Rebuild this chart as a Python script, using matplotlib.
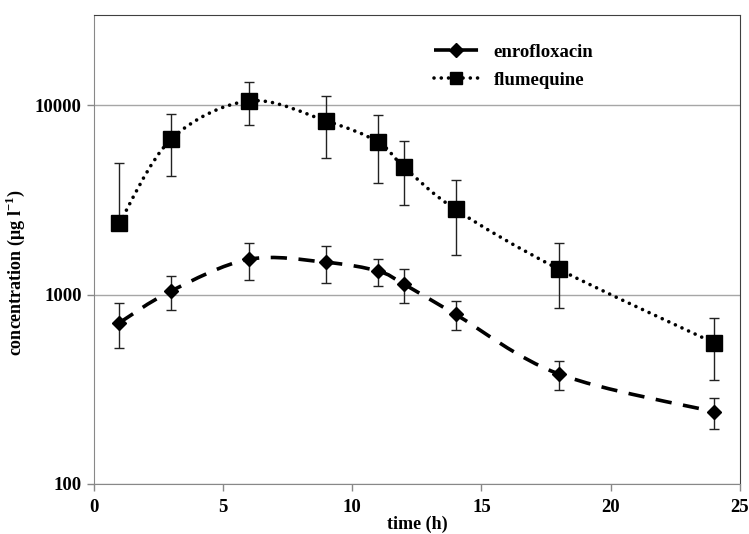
from matplotlib import pyplot as plt
from matplotlib.lines import Line2D
from matplotlib.path import Path
from matplotlib.patches import PathPatch
import numpy as np

# time points (h) and mean concentrations (ug/l) with SD
time_h = [1, 3, 6, 9, 11, 12, 14, 18, 24]
enro_mean = [710, 1045, 1535, 1480, 1330, 1135, 785, 380, 240]
enro_sd = [190, 212, 340, 325, 220, 235, 135, 68, 45]
flum_mean = [2390, 6620, 10540, 8260, 6400, 4720, 2815, 1360, 555]
flum_sd = [2570, 2410, 2650, 2990, 2520, 1760, 1200, 510, 200]

font = 'Liberation Serif'
plt.rcParams['font.family'] = font
plt.rcParams['font.weight'] = 'bold'
plt.rcParams['axes.labelweight'] = 'bold'
plt.rcParams['font.size'] = 13
plt.rcParams['mathtext.fontset'] = 'custom'
plt.rcParams['mathtext.rm'] = font + ':bold'
plt.rcParams['mathtext.bf'] = font + ':bold'


def smooth_path(x, y):
    # Excel style smoothed line: cubic bezier through the points, done in (x, log y)
    p = np.column_stack([np.asarray(x, float), np.log10(y)])
    pts = np.vstack([p[0], p, p[-1]])
    verts = [p[0]]
    codes = [Path.MOVETO]
    for i in range(1, len(pts) - 2):
        c1 = pts[i] + (pts[i + 1] - pts[i - 1]) / 6
        c2 = pts[i + 1] - (pts[i + 2] - pts[i]) / 6
        verts += [c1, c2, pts[i + 1]]
        codes += [Path.CURVE4] * 3
    verts = np.array(verts)
    verts[:, 1] = 10 ** verts[:, 1]
    return Path(verts, codes)


def lower_err(mean, sd):
    # excel drops the lower bar when it would go below zero on a log axis
    return [s if m - s > 0 else 0 for m, s in zip(mean, sd)]


dash = (0, (4.5, 3.2))
dot = (0, (0.01, 2.0))

fig = plt.figure(figsize=(7.49, 5.34), dpi=100)
ax = fig.add_axes([0.125, 0.094, 0.863, 0.878])
ax.set_yscale('log')

# gridlines
ax.yaxis.grid(True, which='major', color='#a6a6a6', linewidth=1)
ax.set_axisbelow(True)

# smoothed lines
ax.add_patch(PathPatch(smooth_path(time_h, enro_mean), fill=False, edgecolor='black',
                       linewidth=2.6, linestyle=dash, capstyle='butt', zorder=2))
ax.add_patch(PathPatch(smooth_path(time_h, flum_mean), fill=False, edgecolor='black',
                       linewidth=2.6, linestyle=dot, capstyle='round', zorder=2))

# error bars
ax.errorbar(time_h, enro_mean, yerr=[lower_err(enro_mean, enro_sd), enro_sd], fmt='none',
            ecolor='#222222', elinewidth=1, capsize=3.6, capthick=1, zorder=3)
ax.errorbar(time_h, flum_mean, yerr=[lower_err(flum_mean, flum_sd), flum_sd], fmt='none',
            ecolor='#222222', elinewidth=1, capsize=3.6, capthick=1, zorder=3)

# markers
ax.plot(time_h, enro_mean, linestyle='none', marker='D', markersize=7.5, color='black', zorder=4)
ax.plot(time_h, flum_mean, linestyle='none', marker='s', markersize=12, color='black', zorder=4)

ax.set_xlim(0, 25)
ax.set_ylim(100, 30000)
ax.set_xticks([0, 5, 10, 15, 20, 25])
ax.set_yticks([100, 1000, 10000])
ax.set_yticklabels(['100', '1000', '10000'])
ax.yaxis.set_minor_locator(plt.NullLocator())
ax.tick_params(direction='out', length=5, width=1, color='#888888', labelsize=13.5)
ax.tick_params(axis='x', pad=6)

for side in ['left', 'bottom']:
    ax.spines[side].set_color('#888888')
for side in ['top', 'right']:
    ax.spines[side].set_color('#404040')

ax.set_xlabel('time (h)', fontsize=13, fontweight='bold', labelpad=0)
ax.set_ylabel('concentration (μg l$^{-1}$)', fontsize=13, fontweight='bold')
ax.yaxis.set_label_coords(-0.103, 0.45)

# legend
handles = [
    Line2D([], [], color='black', linewidth=2.6, linestyle=dash, marker='D', markersize=7),
    Line2D([], [], color='black', linewidth=2.6, linestyle=dot, dash_capstyle='round',
           marker='s', markersize=9),
]
leg = ax.legend(handles, ['enrofloxacin', 'flumequine'], loc='upper left',
                bbox_to_anchor=(0.5, 0.975), frameon=False, handlelength=2.4,
                labelspacing=0.6, prop={'weight': 'bold', 'size': 13.5})

fig.savefig('out.png', dpi=100)
